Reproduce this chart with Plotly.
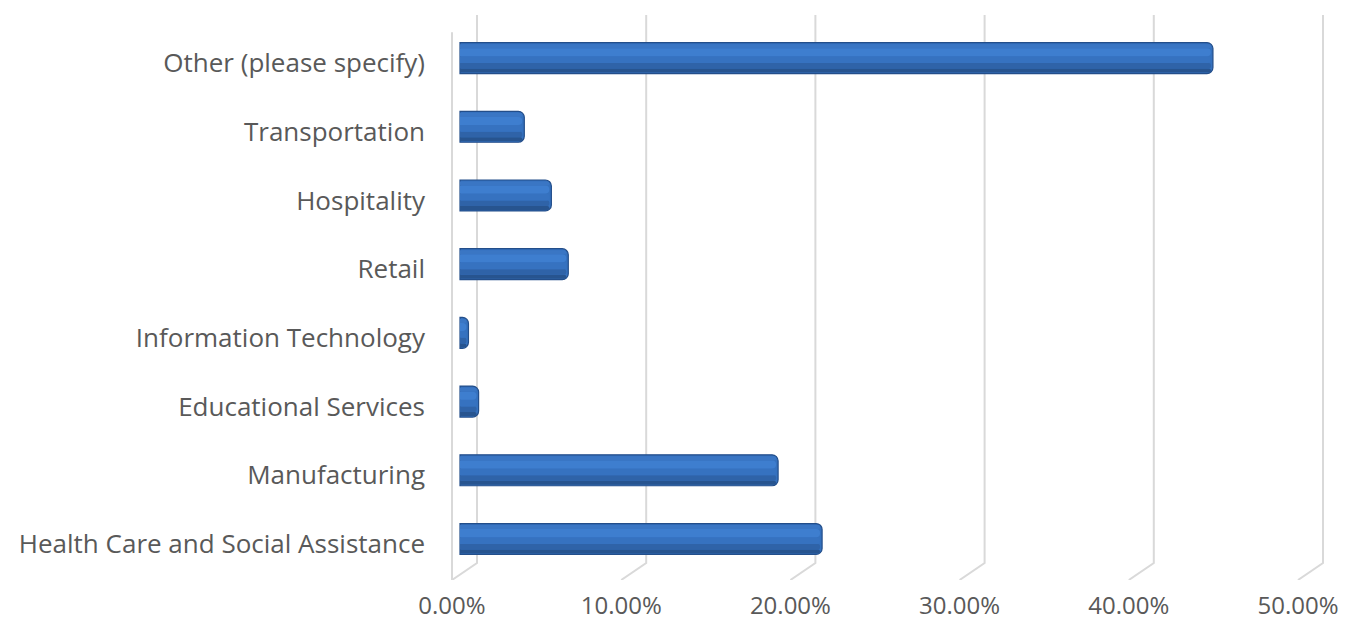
import plotly.graph_objects as go

# Industry shares, listed bottom to top
categories = [
    "Health Care and Social Assistance",
    "Manufacturing",
    "Educational Services",
    "Information Technology",
    "Retail",
    "Hospitality",
    "Transportation",
    "Other (please specify)",
]
shares = [21.4, 18.8, 1.1, 0.5, 6.4, 5.4, 3.8, 44.5]
tick_values = [0, 10, 20, 30, 40, 50]
tick_labels = ["0.00%", "10.00%", "20.00%", "30.00%", "40.00%", "50.00%"]

positions = list(range(len(categories)))

# 3D-style frame geometry (in axis units)
PX_PER_PCT = 16.92
BACK_SHIFT = 17 / PX_PER_PCT      # back wall sits right of the bar plane
FRONT_SHIFT = -8 / PX_PER_PCT     # floor front edge sits left of it
Y_TOP, Y_FLOOR_BACK, Y_FLOOR_FRONT = 7.70, -0.277, -0.524
Y_FRONT_TOP = 7.45

x_lo = -20 / PX_PER_PCT
x_hi = x_lo + 900 / PX_PER_PCT

fig = go.Figure()

# gridlines: vertical on the back wall, bending forward across the floor
gx, gy = [], []
for t in tick_values:
    gx += [t + BACK_SHIFT, t + BACK_SHIFT, t + FRONT_SHIFT, None]
    gy += [Y_TOP, Y_FLOOR_BACK, Y_FLOOR_FRONT, None]
# front edge of the left side wall
gx += [FRONT_SHIFT, FRONT_SHIFT, None]
gy += [Y_FRONT_TOP, Y_FLOOR_FRONT, None]
fig.add_trace(go.Scatter(x=gx, y=gy, mode="lines", zorder=-1,
                         line=dict(color="#d9d9d9", width=2),
                         hoverinfo="skip", showlegend=False))

BAR_W = 0.45
BAR_OFF = -BAR_W / 2 + 0.073

# body of each bar
fig.add_trace(go.Bar(
    x=shares, y=positions, orientation="h",
    width=BAR_W, offset=BAR_OFF,
    marker=dict(color="#3571be", line=dict(color="#234e8a", width=1.2),
                cornerradius=6),
    hovertemplate="%{x:.2f}%<extra></extra>", showlegend=False))

# shading bands across the bar height: (bottom fraction, top fraction, colour)
bands = [
    (0.03, 0.16, "#27548f"),
    (0.16, 0.34, "#2f63a8"),
    (0.34, 0.56, "#3672c0"),
    (0.56, 0.82, "#3e7ecf"),
    (0.82, 0.95, "#3a76c4"),
]
for lo, hi, col in bands:
    fig.add_trace(go.Bar(
        x=[v - 0.12 for v in shares], y=positions, orientation="h",
        width=BAR_W * (hi - lo), offset=BAR_OFF + BAR_W * lo,
        marker=dict(color=col, line=dict(width=0), cornerradius=4),
        hoverinfo="skip", showlegend=False))

# invisible trace carrying the percentage axis
fig.add_trace(go.Scatter(x=[0, 50], y=[0, 0], xaxis="x2", mode="markers",
                         marker=dict(opacity=0), hoverinfo="skip",
                         showlegend=False))

font_family = "Open Sans, Noto Sans, sans-serif"
fig.update_layout(
    width=1351, height=627,
    margin=dict(l=440, r=11, t=15, b=47, autoexpand=False),
    paper_bgcolor="white", plot_bgcolor="white",
    barmode="overlay",
    font=dict(family=font_family, color="#595959", size=26),
    xaxis=dict(range=[x_lo, x_hi], showgrid=False, zeroline=False,
               showticklabels=False, showline=False, automargin=False),
    xaxis2=dict(range=[x_lo - FRONT_SHIFT, x_hi - FRONT_SHIFT],
                overlaying="x", side="bottom", tickvals=tick_values,
                ticktext=tick_labels, showgrid=False, zeroline=False,
                showline=False, ticks="", ticklabelstandoff=9,
                automargin=False,
                tickfont=dict(size=24, color="#595959")),
    yaxis=dict(range=[Y_FLOOR_FRONT, Y_TOP], tickvals=positions,
               ticktext=categories, showgrid=False, zeroline=False,
               showline=False, ticks="", ticklabelstandoff=14,
               automargin=False,
               tickfont=dict(size=26, color="#595959")),
)

fig.write_html("out.html")
